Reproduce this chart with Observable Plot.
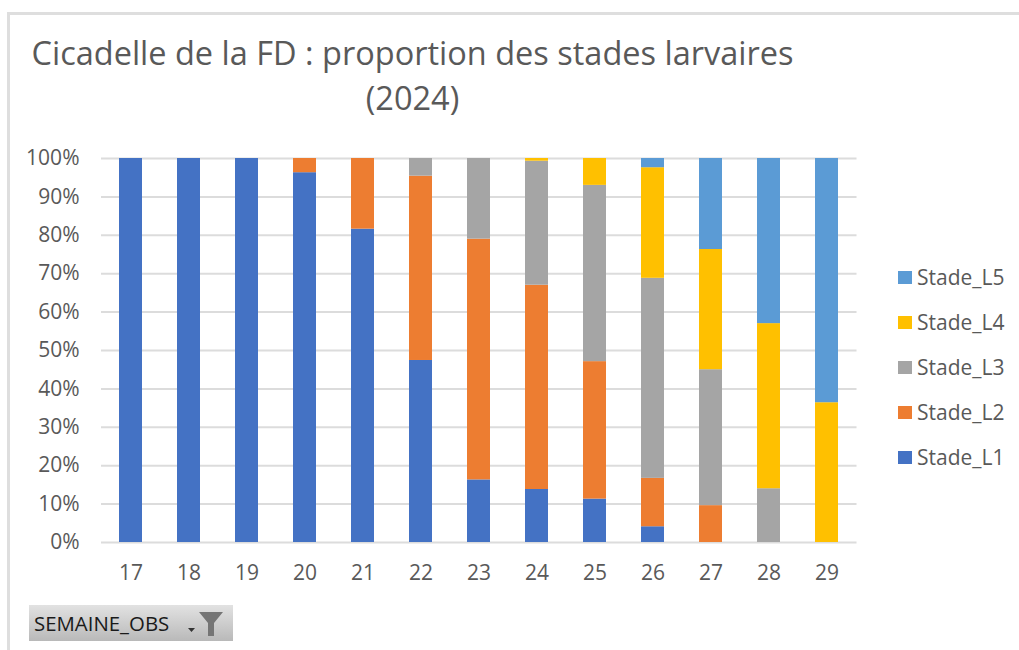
<!DOCTYPE html>
<html lang="fr">
<head>
<meta charset="utf-8">
<script src="https://cdn.jsdelivr.net/npm/d3@7"></script>
<script src="https://cdn.jsdelivr.net/npm/@observablehq/plot@0.6"></script>
<style>
html,body{margin:0;padding:0;background:#fff;overflow:hidden}
#page{position:relative;width:1019px;height:650px;font-family:"Open Sans",sans-serif;color:#595959}
#frame{position:absolute;left:7px;top:12px;right:0;bottom:0;border-left:3px solid #dedede;border-top:3px solid #dedede}
#title{position:absolute;left:0;top:30px;width:825px;text-align:center;font-size:32.5px;line-height:45px;white-space:nowrap}
#chart{position:absolute;left:0;top:140px}
#legend{position:absolute;left:898px;top:265px}
.item{position:absolute;left:0;display:flex;align-items:center;white-space:nowrap;font-size:21px;height:24px}
.sw{width:14px;height:13px;margin-right:5px}
#filter{position:absolute;left:29px;top:605px;width:204px;height:36px;background:linear-gradient(#e2e2e2,#b9b9b9);color:#1a1a1a;font-size:20.4px;line-height:36px}
#filter span{position:absolute;left:5px;top:0}
#filter svg{position:absolute;left:158px;top:6px}
</style>
</head>
<body>
<div id="page">
<div id="frame"></div>
<div id="title">Cicadelle de la FD : proportion des stades larvaires<br>(2024)</div>
<div id="chart"></div>
<div id="legend"></div>
<div id="filter"><span>SEMAINE_OBS</span>
<svg width="44" height="26" viewBox="0 0 44 26"><path d="M1 17h7l-3.500 4z" fill="#333"/><path d="M12 1h24l-9 11v13h-6V12z" fill="#757575"/></svg></div>
</div>
<script>
const weeks = ["17","18","19","20","21","22","23","24","25","26","27","28","29"];
const stades = ["Stade_L1","Stade_L2","Stade_L3","Stade_L4","Stade_L5"];
const couleurs = ["#4472c4","#ed7d31","#a5a5a5","#ffc000","#5b9bd5"];
const stadeL1 = [100,100,100,96.3,81.6,47.4,16.3,13.8,11.3,4.1,0,0,0];
const stadeL2 = [0,0,0,3.7,18.4,48.0,62.7,53.2,35.8,12.6,9.6,0,0];
const stadeL3 = [0,0,0,0,0,4.6,21.0,32.3,45.9,52.1,35.4,14.0,0];
const stadeL4 = [0,0,0,0,0,0,0,0.7,7.0,28.8,31.3,43.0,36.4];
const stadeL5 = [0,0,0,0,0,0,0,0,0,2.4,23.7,43.0,63.6];
const yTicks = [0,10,20,30,40,50,60,70,80,90,100];

const series = [stadeL1,stadeL2,stadeL3,stadeL4,stadeL5];
const rows = stades.flatMap((s,i)=>weeks.map((w,j)=>({week:w,stade:s,value:series[i][j]})));

const plot = Plot.plot({
  width:1019,height:450,
  marginTop:18,marginBottom:48,marginLeft:101,marginRight:162.5,
  style:{fontFamily:'"Open Sans",sans-serif',fontSize:"21px",color:"#595959",background:"transparent"},
  x:{domain:weeks,paddingInner:0.6,paddingOuter:0.3,label:null,tickSize:0,tickPadding:23},
  y:{domain:[0,100],ticks:yTicks,tickFormat:d=>d+"%",label:null,tickSize:0,tickPadding:22},
  color:{domain:stades,range:couleurs},
  marks:[
    Plot.ruleY(yTicks,{stroke:"#dcdcdc",strokeWidth:2}),
    Plot.barY(rows,{x:"week",y:"value",fill:"stade",order:stades})
  ]
});
document.getElementById("chart").append(plot);

const legend=document.getElementById("legend");
stades.forEach((s,i)=>{
  const d=document.createElement("div");
  d.className="item";
  d.style.top=(180-i*45)+"px";
  const sw=document.createElement("div");
  sw.className="sw";sw.style.background=couleurs[i];
  d.append(sw,document.createTextNode(s));
  legend.append(d);
});
</script>
</body>
</html>
